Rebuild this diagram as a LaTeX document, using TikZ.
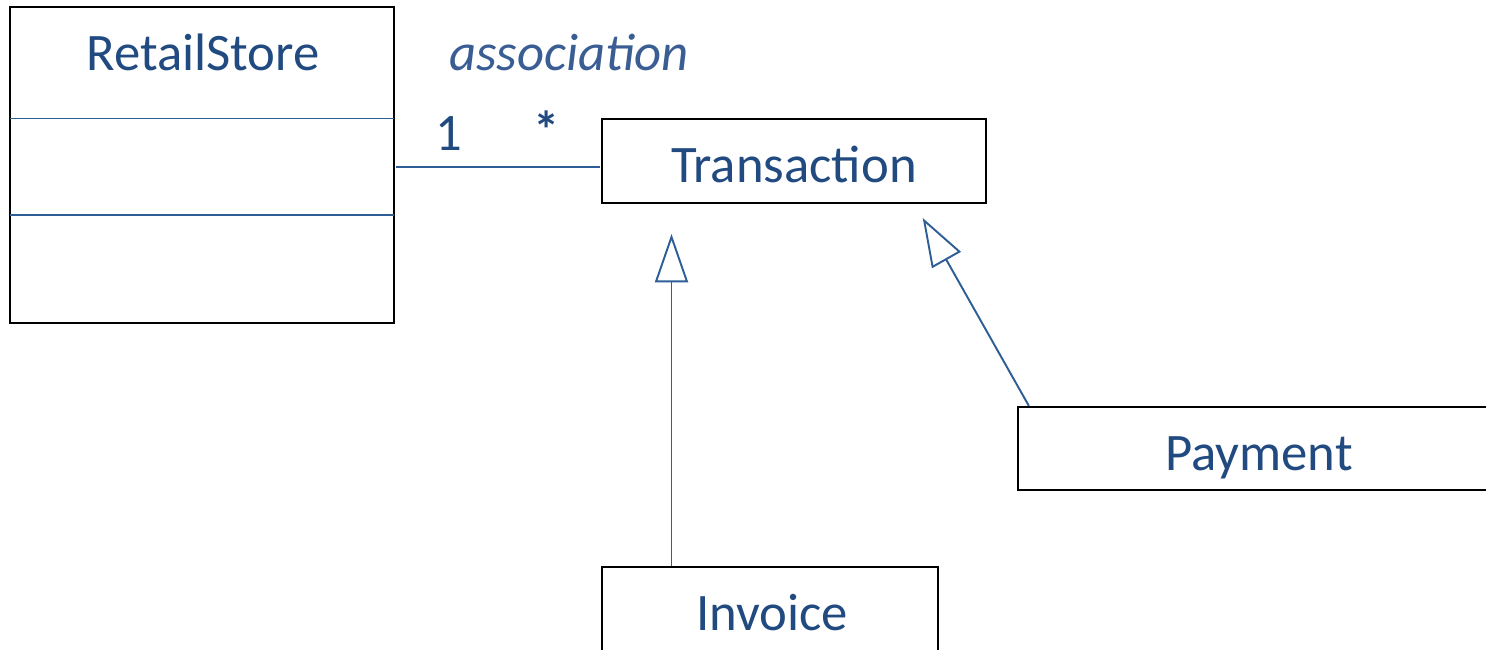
\documentclass[tikz,border=0pt]{standalone}
\usepackage{fontspec}
\setmainfont{Carlito}
\usetikzlibrary{arrows.meta}
\definecolor{txtblue}{RGB}{32,74,128}
\definecolor{assocblue}{RGB}{58,94,148}
\definecolor{lineblue}{RGB}{46,94,150}
\tikzset{
  box/.style={draw=black, line width=1.3pt, fill=white, rectangle, inner sep=0pt},
  lbl/.style={text=txtblue, font=\fontsize{30}{36}\selectfont, anchor=base, inner sep=0pt},
  conn/.style={draw=lineblue, line width=1.1pt},
  gen/.style={conn, -{Triangle[open, length=27.5pt, width=18.8pt, fill=white]}},
}
\begin{document}
\begin{tikzpicture}[x=0.02cm, y=-0.02cm]
\useasboundingbox (0,0) rectangle (1486,649);
\clip (0,0) rectangle (1486,649);
% class boxes
\node[box, minimum width=384*0.02cm, minimum height=316*0.02cm] (rs) at (202,165) {};
\node[box, minimum width=384*0.02cm, minimum height=84*0.02cm] (tr) at (794,161) {};
\node[box, minimum width=500*0.02cm, minimum height=83*0.02cm] (pay) at (1268,448.5) {};
\node[box, minimum width=336*0.02cm, minimum height=84*0.02cm] (inv) at (770,609) {};
% compartments of RetailStore
\coordinate (d1) at (0,118.5);
\coordinate (d2) at (0,215);
\draw[conn] ([xshift=0.65pt]rs.west |- d1) -- ([xshift=-0.65pt]rs.east |- d1);
\draw[conn] ([xshift=0.65pt]rs.west |- d2) -- ([xshift=-0.65pt]rs.east |- d2);
% labels
\node[lbl] (rsl) at (203,70) {RetailStore};
\node[lbl] (trl) at (794,182) {Transaction};
\node[lbl] (payl) at (1259,470) {Payment};
\node[lbl] (invl) at (772,630) {Invoice};
\node[lbl, text=assocblue, font=\fontsize{30}{36}\selectfont\itshape] (asl) at (569,70) {association};
\node[lbl] (m1) at (449,150) {1};
\node[lbl, font=\fontsize{30}{36}\selectfont\bfseries] (m2) at (547,148) {*};
% association
\coordinate (ay) at (0,167);
\draw[conn] ([xshift=0.65pt]rs.east |- ay) -- ([xshift=-0.65pt]tr.west |- ay);
% generalizations
\coordinate (invTip) at (671.5,234);
\draw[gen] (invTip |- inv.north) -- (invTip);
\coordinate (payTip) at (922.7,218);
\draw[gen] ([xshift=0.24cm]pay.north west) -- (payTip);
\end{tikzpicture}
\end{document}
